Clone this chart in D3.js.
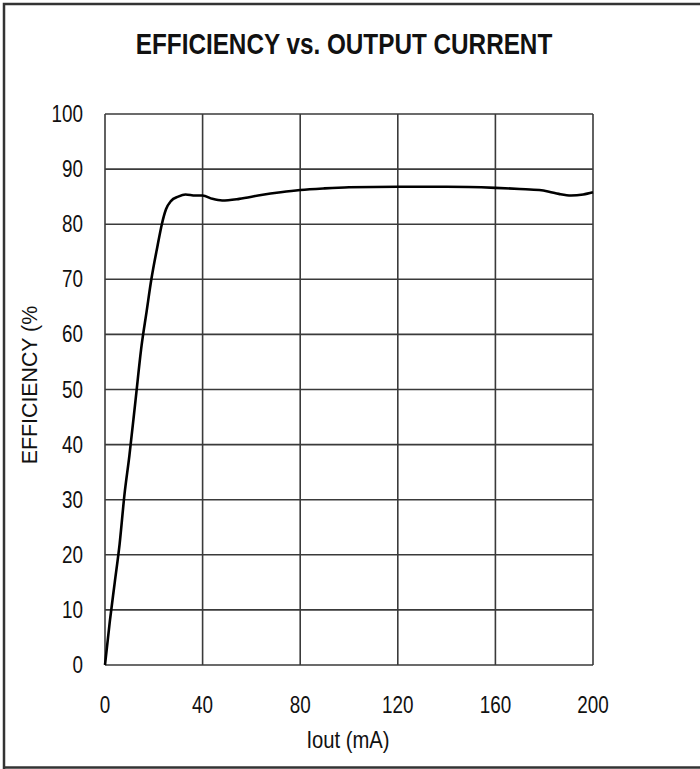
<!DOCTYPE html>
<html><head><meta charset="utf-8">
<script src="https://cdn.jsdelivr.net/npm/d3@7"></script>
<style>html,body{margin:0;padding:0;background:#fff;}</style>
</head><body>
<svg id="c" width="700" height="769"></svg>
<script>
const titleText = "EFFICIENCY vs. OUTPUT CURRENT";
const xLabel = "Iout (mA)";
const yLabel = "EFFICIENCY (%";
const xTicks = [0, 40, 80, 120, 160, 200];
const yTicks = [0, 10, 20, 30, 40, 50, 60, 70, 80, 90, 100];
const current = [0, 2, 4, 6, 8, 10, 12.5, 15, 17, 19, 21.5, 23.3, 25, 27, 30, 33, 37, 40, 44, 48, 55, 64, 72, 80, 90, 100, 120, 140, 160, 170, 178, 182, 186, 191, 196, 200];
const efficiency = [0, 8, 15, 22, 31, 38, 48, 58, 64, 70, 76, 80, 82.7, 84.2, 85, 85.4, 85.2, 85.2, 84.6, 84.3, 84.6, 85.3, 85.8, 86.2, 86.5, 86.7, 86.8, 86.8, 86.6, 86.4, 86.2, 85.9, 85.5, 85.2, 85.4, 85.8];

const svg = d3.select("#c");
const FONT = "'Liberation Sans', Arial, sans-serif";
const ink = "#333";

// frame
svg.append("path").attr("d", "M4,769 L4,4 L700,4").attr("fill", "none").attr("stroke", ink).attr("stroke-width", 2.5);
svg.append("line").attr("x1", 4).attr("x2", 700).attr("y1", 767.5).attr("y2", 767.5).attr("stroke", ink).attr("stroke-width", 2.5);

const x = d3.scaleLinear().domain([0, 200]).range([105, 593]);
const y = d3.scaleLinear().domain([0, 100]).range([665, 114]);

function label(txt, px, py, size, sx, anchor, weight, rot) {
  svg.append("text")
    .attr("transform", `translate(${px},${py}) rotate(${rot || 0}) scale(${sx},1)`)
    .attr("text-anchor", anchor)
    .attr("font-family", FONT)
    .attr("font-size", size)
    .attr("font-weight", weight || "normal")
    .attr("fill", "#111")
    .text(txt);
}

// grid
const g = svg.append("g");
g.selectAll("line.h").data(yTicks).join("line")
  .attr("x1", x(0)).attr("x2", x(200))
  .attr("y1", d => y(d)).attr("y2", d => y(d))
  .attr("stroke", "#3a3a3a").attr("stroke-width", 1.6);
g.selectAll("line.v").data(xTicks).join("line")
  .attr("y1", y(0)).attr("y2", y(100))
  .attr("x1", d => x(d)).attr("x2", d => x(d))
  .attr("stroke", "#3a3a3a").attr("stroke-width", 1.6);

// tick labels
yTicks.forEach(t => label(String(t), x(0) - 22, y(t) + 8, 23, 0.82, "end"));
xTicks.forEach(t => label(String(t), x(t), y(0) + 48, 23, 0.82, "middle"));

// line
const pts = current.map((c, i) => [c, efficiency[i]]);
svg.append("path").datum(pts)
  .attr("fill", "none").attr("stroke", "#000").attr("stroke-width", 2.6)
  .attr("stroke-linejoin", "round")
  .attr("d", d3.line().x(d => x(d[0])).y(d => y(d[1])).curve(d3.curveMonotoneX));

// titles
label(titleText, 344, 54, 30, 0.81, "middle", "bold");
label(xLabel, 348, 748, 23, 0.88, "middle");
label(yLabel, 37, 385, 22, 0.97, "middle", "normal", -90);
</script>
</body></html>
